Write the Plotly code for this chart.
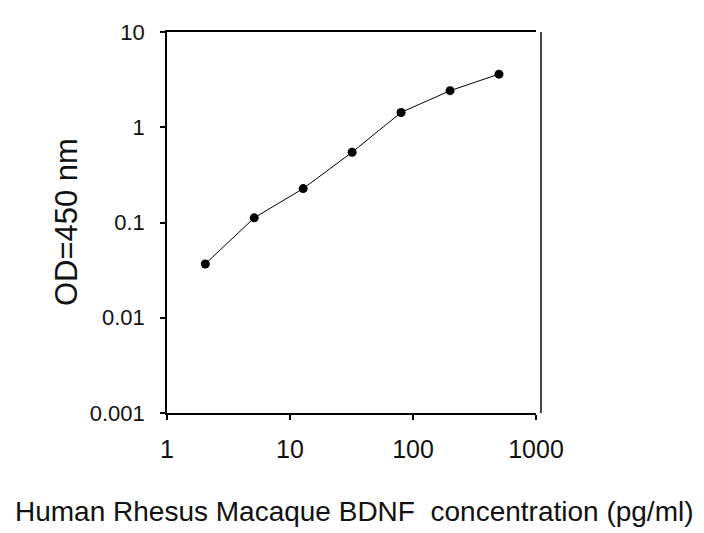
import plotly.graph_objects as go

concentration = [2.048, 5.12, 12.8, 32, 80, 200, 500]
od450 = [0.0367, 0.112, 0.227, 0.547, 1.43, 2.42, 3.61]

x_ticks = [1, 10, 100, 1000]
x_tick_labels = ["1", "10", "100", "1000"]
y_ticks = [0.001, 0.01, 0.1, 1, 10]
y_tick_labels = ["0.001", "0.01", "0.1", "1", "10"]

font_family = "Liberation Sans, Arial, sans-serif"

fig = go.Figure()
fig.add_trace(go.Scatter(
    x=concentration, y=od450, mode="lines+markers",
    line=dict(color="black", width=1),
    marker=dict(color="black", size=9, symbol="circle"),
    showlegend=False,
))

fig.update_layout(
    width=704, height=533,
    margin=dict(l=159, r=176, t=14, b=128),
    paper_bgcolor="white", plot_bgcolor="white",
    font=dict(family=font_family, size=17, color="#111111"),
    xaxis=dict(
        type="log", range=[0, 3],
        tickvals=x_ticks, ticktext=x_tick_labels,
        ticks="outside", ticklen=5, tickwidth=1.5, tickcolor="black",
        showline=True, linecolor="black", linewidth=1.6, mirror=True,
        showgrid=False, zeroline=False,
        tickfont=dict(size=25), ticklabelstandoff=8,
    ),
    yaxis=dict(
        type="log", range=[-3, 1],
        tickvals=y_ticks, ticktext=y_tick_labels,
        ticks="outside", ticklen=5, tickwidth=1.5, tickcolor="black",
        showline=True, linecolor="black", linewidth=1.6, mirror=False,
        showgrid=False, zeroline=False,
        tickfont=dict(size=22), ticklabelstandoff=11,
    ),
    shapes=[
        dict(type="line", xref="paper", yref="paper",
             x0=374 / 369, x1=374 / 369, y0=0, y1=1,
             line=dict(color="#444444", width=2)),
    ],
    annotations=[
        dict(text="OD=450 nm", xref="paper", yref="paper",
             x=-0.2737, y=0.501, xanchor="center", yanchor="middle",
             textangle=-90, showarrow=False, font=dict(size=31)),
        dict(text="Human Rhesus Macaque BDNF&nbsp;&nbsp;concentration (pg/ml)",
             xref="paper", yref="paper",
             x=(354 - 167) / 369, y=-0.2596, xanchor="center", yanchor="middle",
             showarrow=False, font=dict(size=28)),
    ],
)

fig.write_html("out.html")
